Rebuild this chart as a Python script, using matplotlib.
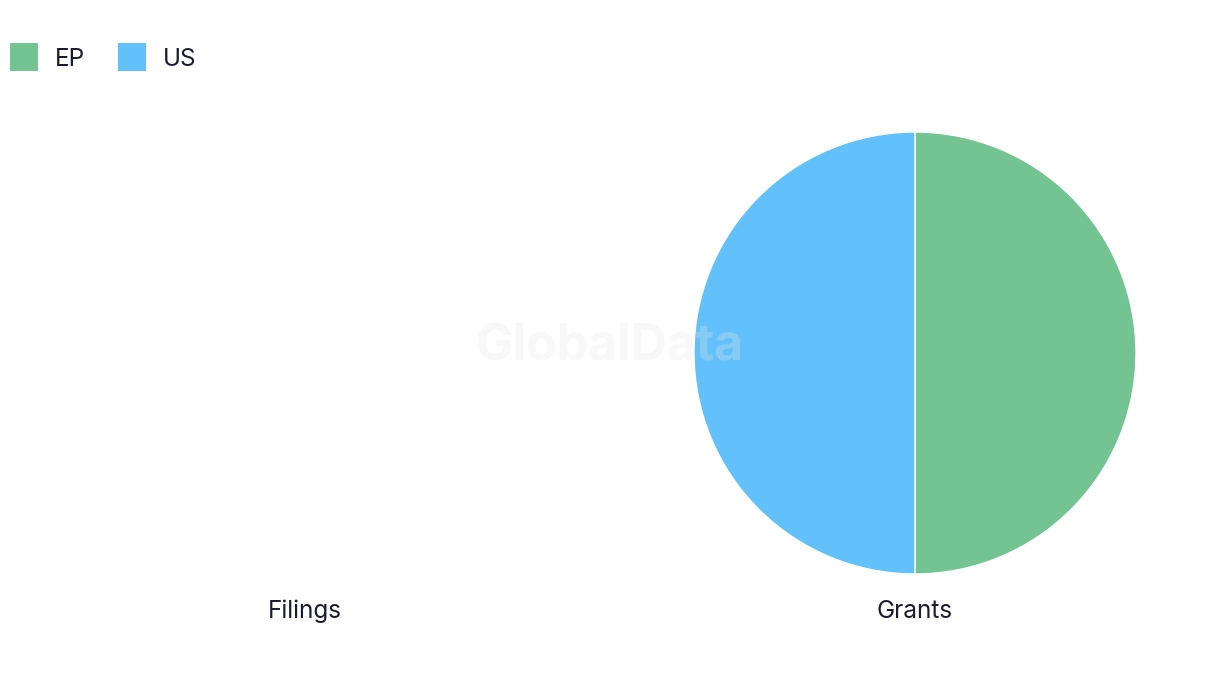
import matplotlib
matplotlib.use("Agg")
import matplotlib.pyplot as plt
from matplotlib.patches import Rectangle

plt.rcParams['font.family'] = ['Inter', 'DejaVu Sans']

series = ["EP", "US"]
colors = ["#74C392", "#62C1FA"]
charts = ["Filings", "Grants"]
filings_values = [0, 0]
grants_values = [1, 1]
values = [filings_values, grants_values]

W, H = 1220, 686
fig = plt.figure(figsize=(W / 100, H / 100), dpi=100)
fig.patch.set_facecolor("white")

text_color = "#1b1b2f"
centers_x = [305, 915]
center_y = 353
radius = 221

for name, cx, vals in zip(charts, centers_x, values):
    ax = fig.add_axes([(cx - radius) / W, 1 - (center_y + radius) / H,
                       2 * radius / W, 2 * radius / H])
    if sum(vals) > 0:
        ax.pie(vals, colors=colors, startangle=90, counterclock=False,
               radius=1, wedgeprops=dict(edgecolor="white", linewidth=1))
    ax.set_xlim(-1, 1)
    ax.set_ylim(-1, 1)
    ax.set_aspect("equal")
    ax.axis("off")
    fig.text(cx / W, 1 - 611 / H, name, ha="center", va="center",
             fontsize=17.5, color=text_color)

# legend
x = 10
for s, c in zip(series, colors):
    fig.patches.append(Rectangle((x / W, 1 - 71 / H), 28 / W, 28 / H,
                                 transform=fig.transFigure, facecolor=c,
                                 edgecolor="none"))
    fig.text((x + 45) / W, 1 - 59 / H, s, ha="left", va="center",
             fontsize=17.5, color=text_color)
    x += 108

# watermark
fig.text(610 / W, 1 - 347 / H, "GlobalData", ha="center", va="center",
         fontsize=36, fontweight="bold", color="#e6e6e6", alpha=0.28,
         zorder=10)

fig.savefig("out.png", dpi=100, facecolor="white")
